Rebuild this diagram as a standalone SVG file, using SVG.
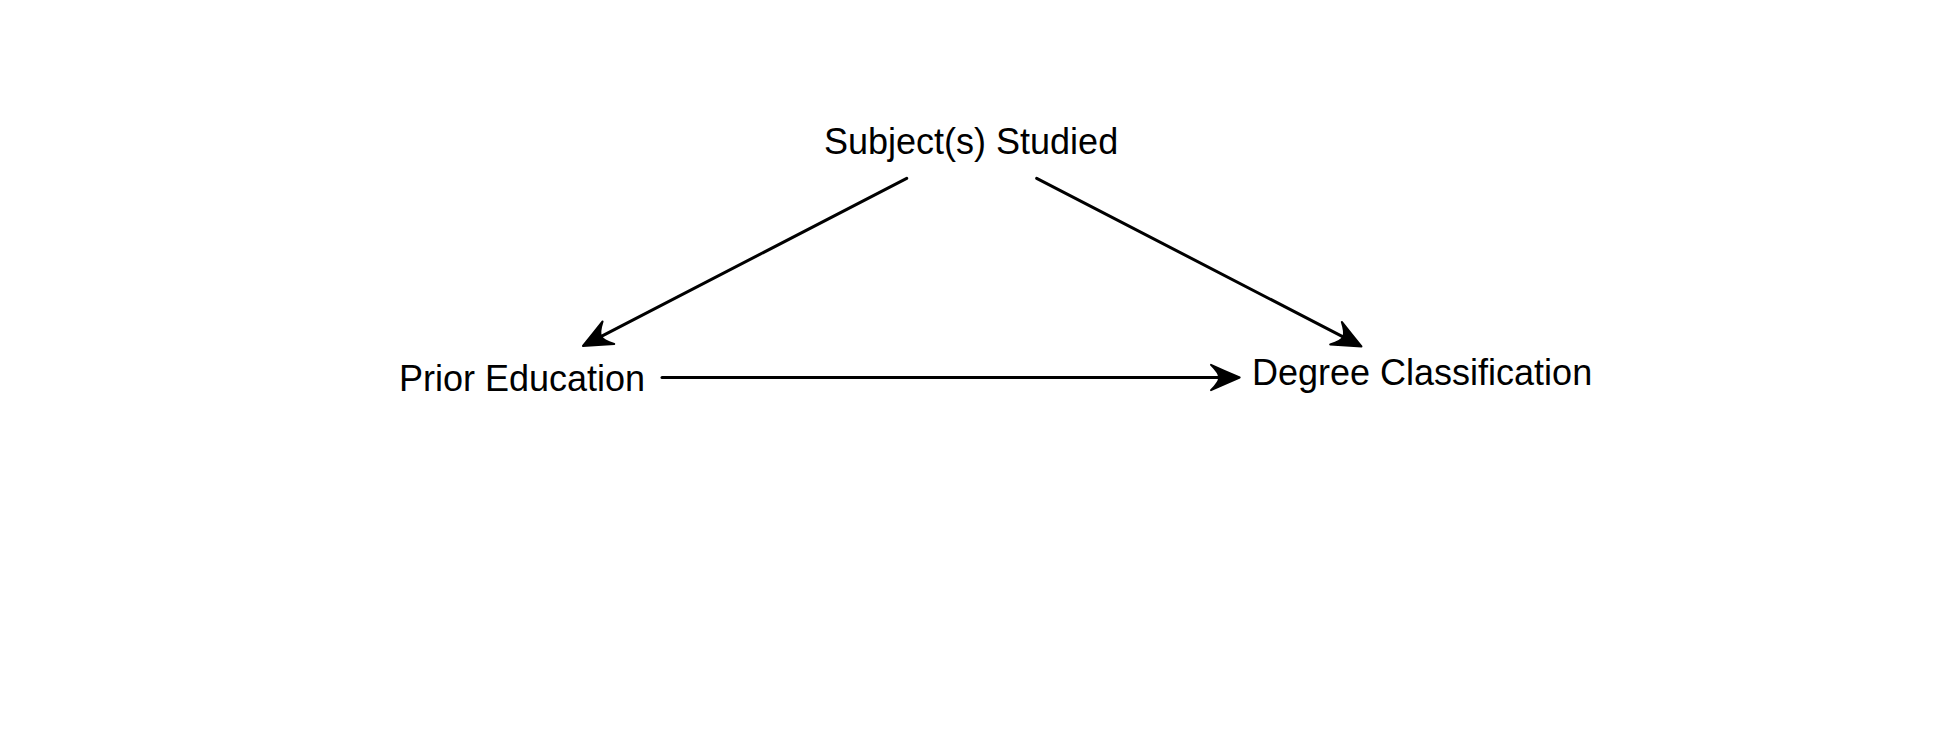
<svg xmlns="http://www.w3.org/2000/svg" width="1944" height="756" viewBox="0 0 1944 756">
<style>
.lbl{font-family:"Liberation Sans",Arial,sans-serif;font-size:36px;fill:#000}
.edge{stroke:#000;stroke-width:3;fill:none;stroke-linecap:round}
</style>
<defs>
<marker id="ah" markerUnits="userSpaceOnUse" orient="auto" refX="0" refY="0" markerWidth="40" markerHeight="40" viewBox="-10 -12 30 24" overflow="visible">
<path d="M15.5 0 Q5 -4.5 -6 -9.5 Q0.5 -3 0 0 Q0.5 3 -6 9.5 Q5 4.5 15.5 0 Z" fill="#000" stroke="#000" stroke-width="1.5" stroke-linejoin="round"/>
</marker>
</defs>
<rect width="1944" height="756" fill="#fff"/>
<g id="node-subject"><text class="lbl" x="824" y="154">Subject(s) Studied</text></g>
<g id="node-prior"><text class="lbl" x="399" y="391">Prior Education</text></g>
<g id="node-degree"><text class="lbl" x="1252" y="385">Degree Classification</text></g>
<g id="connectors">
<line class="edge" x1="906.7" y1="178.3" x2="601.3" y2="336.4" marker-end="url(#ah)"/>
<line class="edge" x1="1036.7" y1="178.3" x2="1343.1" y2="336.9" marker-end="url(#ah)"/>
<line class="edge" x1="662" y1="377.5" x2="1219" y2="377.5" marker-end="url(#ah)"/>
</g>
</svg>
